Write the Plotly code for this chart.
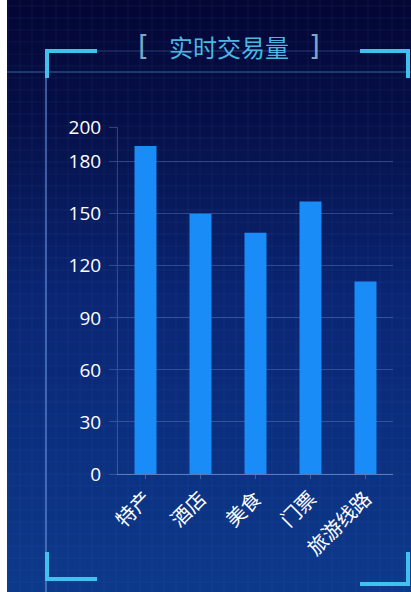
import plotly.graph_objects as go

categories = ["特产", "酒店", "美食", "门票", "旅游线路"]
values = [189, 150, 139, 157, 111]
tick_vals = [0, 30, 60, 90, 120, 150, 180, 200]
tick_text = ["0", "30", "60", "90", "120", "150", "180", "200"]
title_text = "实时交易量"

W, H = 411, 592
FONT = "Noto Sans CJK SC, Open Sans, sans-serif"
PL, PR, PT, PB = 118, 393, 127, 474

def px(x):
    return (x - PL) / (PR - PL)

def py(y):
    return (PB - y) / (PB - PT)

fig = go.Figure()
fig.add_trace(go.Bar(
    x=categories, y=values,
    marker=dict(color="#1a8cf7", line=dict(width=0)),
    hoverinfo="x+y",
))

shapes = []
# vertical gradient background over the full page
stops = [(0, (4, 7, 52)), (120, (6, 16, 72)), (300, (10, 38, 116)), (592, (14, 58, 140))]
n = 74
for i in range(n):
    y0 = i * H / n
    y1 = (i + 1) * H / n
    ym = (y0 + y1) / 2
    for j in range(len(stops) - 1):
        if stops[j][0] <= ym <= stops[j + 1][0]:
            a, ca = stops[j]
            b, cb = stops[j + 1]
            u = (ym - a) / (b - a)
            c = tuple(int(ca[k] + (cb[k] - ca[k]) * u) for k in range(3))
            break
    shapes.append(dict(type="rect", xref="paper", yref="paper", x0=px(-5), x1=px(W + 5),
                       y0=py(y1 + 0.6), y1=py(y0 - 0.6), fillcolor="rgb(%d,%d,%d)" % c,
                       line=dict(width=0), layer="below"))

# faint grid pattern
for gx in range(8, W, 12):
    shapes.append(dict(type="line", xref="paper", yref="paper", x0=px(gx), x1=px(gx),
                       y0=py(H), y1=py(0), line=dict(color="rgba(90,120,200,0.10)", width=1),
                       layer="below"))
for gy in range(6, H, 12):
    shapes.append(dict(type="line", xref="paper", yref="paper", x0=px(0), x1=px(W),
                       y0=py(gy), y1=py(gy), line=dict(color="rgba(90,120,200,0.10)", width=1),
                       layer="below"))

# frame thin lines
frame_c = "rgba(110,150,230,0.55)"
shapes.append(dict(type="line", xref="paper", yref="paper", x0=px(46), x1=px(46), y0=py(52), y1=py(592),
                   line=dict(color=frame_c, width=2), layer="below"))
shapes.append(dict(type="line", xref="paper", yref="paper", x0=px(0), x1=px(411), y0=py(72), y1=py(72),
                   line=dict(color="rgba(90,160,230,0.30)", width=2), layer="below"))
shapes.append(dict(type="line", xref="paper", yref="paper", x0=px(46), x1=px(408), y0=py(51), y1=py(51),
                   line=dict(color="rgba(110,150,230,0.35)", width=1), layer="below"))

# cyan corner brackets
cy = "#3fc3ee"
def seg(x0, y0, x1, y1):
    shapes.append(dict(type="line", xref="paper", yref="paper", x0=px(x0), x1=px(x1),
                       y0=py(y0), y1=py(y1), line=dict(color=cy, width=4)))
seg(45, 51, 97, 51); seg(47, 49, 47, 78)
seg(360, 51, 410, 51); seg(408, 49, 408, 78)
seg(47, 552, 47, 581); seg(45, 579, 97, 579)
seg(360, 584, 410, 584); seg(408, 552, 408, 586)

# white strip on the left edge
shapes.append(dict(type="rect", xref="paper", yref="paper", x0=px(-2), x1=px(7), y0=py(H + 2), y1=py(-2),
                   fillcolor="#ffffff", line=dict(width=0)))

annotations = [
    dict(text=title_text, xref="paper", yref="paper", x=px(229), y=py(47), showarrow=False,
         font=dict(family=FONT, size=24, color="#4ab8e2"), xanchor="center", yanchor="middle"),
    dict(text="[", xref="paper", yref="paper", x=px(143), y=py(47), showarrow=False,
         font=dict(family="DejaVu Sans", size=28, color="#7aa6c8"), xanchor="center", yanchor="middle"),
    dict(text="]", xref="paper", yref="paper", x=px(314), y=py(47), showarrow=False,
         font=dict(family="DejaVu Sans", size=28, color="#7aa6c8"), xanchor="center", yanchor="middle"),
]

fig.update_layout(
    width=W, height=H,
    margin=dict(l=PL, r=W - PR, t=PT, b=H - PB),
    paper_bgcolor="#0a1f66",
    plot_bgcolor="rgba(0,0,0,0)",
    bargap=0.6,
    showlegend=False,
    shapes=shapes,
    annotations=annotations,
    font=dict(family=FONT, color="#ffffff"),
    xaxis=dict(
        type="category", tickangle=-45,
        tickfont=dict(family=FONT, size=20, color="#ffffff"),
        showgrid=False, showline=True, linecolor="rgba(140,170,230,0.6)", linewidth=1,
        ticks="outside", ticklen=4, tickcolor="rgba(140,170,230,0.4)",
        fixedrange=True,
    ),
    yaxis=dict(
        range=[0, 200], tickvals=tick_vals, ticktext=tick_text,
        tickfont=dict(family="Open Sans, sans-serif", size=19, color="#ffffff"),
        showgrid=True, gridcolor="rgba(120,150,220,0.35)", gridwidth=1,
        showline=True, linecolor="rgba(120,150,220,0.35)", linewidth=1,
        zeroline=False, ticks="outside", ticklen=8, tickcolor="rgba(120,150,220,0.35)",
        ticklabelstandoff=4,
        fixedrange=True,
    ),
)

fig.write_html("out.html", config={"displayModeBar": False},
               post_script="document.body.style.margin='0';")
